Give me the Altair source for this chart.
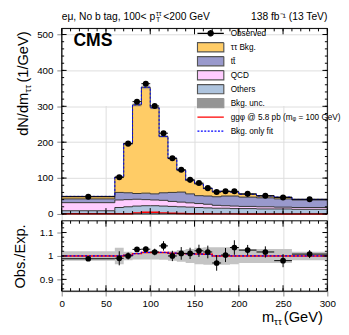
import altair as alt
import pandas as pd

# ---------------- data ----------------
bin_lo = [0, 60, 70, 80, 90, 100, 110, 120, 130, 140, 150, 160, 170, 180, 190, 200, 220, 240, 260]
bin_hi = [60, 70, 80, 90, 100, 110, 120, 130, 140, 150, 160, 170, 180, 190, 200, 220, 240, 260, 300]
bin_mid = [30, 65, 75, 85, 95, 105, 115, 125, 135, 145, 155, 165, 175, 185, 195, 210, 230, 250, 280]

others = [9, 18, 20, 22, 23, 23, 22, 21, 20, 19, 18, 17, 16, 16, 15, 15, 14, 14, 13]
qcd = [22.5, 21, 20, 19, 17, 16, 16, 14, 13, 12, 11, 10, 8, 7, 7, 6, 6, 5, 5]
ttbar = [10.5, 21, 19, 16, 18, 17, 21, 25, 28, 25, 22, 23, 24, 27, 28, 26, 25, 23, 21]
tautau = [7, 43, 137, 247, 295, 240, 157, 95, 61, 38, 33, 21, 15, 13, 11, 8, 5, 5, 1.5]
signal = [0.5, 0.5, 0.8, 3, 5, 4.5, 3, 2, 1.2, 0.8, 0.7, 0.5, 0.3, 0.3, 0.3, 0.2, 0.2, 0.2, 0.2]
observed = [48, 102, 196, 313, 363, 301, 225, 155, 123, 95, 86, 72, 61, 63, 63, 56, 51, 46, 41]
bkg_unc = [0.02, 0.035, 0.018, 0.015, 0.015, 0.015, 0.016, 0.02, 0.025, 0.03, 0.035, 0.037,
           0.037, 0.037, 0.035, 0.03, 0.03, 0.03, 0.018]

ratio = [0.988, 0.99, 1.0, 1.028, 1.029, 1.017, 1.043, 1.0, 1.011, 1.011, 1.022, 1.017,
         0.97, 1.004, 1.036, 1.025, 1.017, 0.98, 1.008]
ratio_err = [0.008, 0.03, 0.015, 0.01, 0.01, 0.014, 0.02, 0.022, 0.027, 0.024, 0.026, 0.027,
             0.033, 0.03, 0.031, 0.022, 0.024, 0.028, 0.017]
sig_ratio = [1.0, 1.0, 1.003, 1.01, 1.015, 1.015, 1.015, 1.012, 1.01, 1.009, 1.008, 1.007,
             1.0, 1.0, 1.0, 1.0, 1.0, 1.0, 1.0]
fit_ratio = [1.0, 1.0, 1.003, 1.01, 1.015, 1.015, 1.015, 1.012, 1.01, 1.009, 1.008, 1.007,
             1.0, 1.0, 1.0, 1.0, 1.0, 1.0, 1.0]

stack_names = ["Others", "QCD", "tt\u0304", "\u03c4\u03c4 Bkg."]
stack_colors = ["#aec4de", "#ffccff", "#9999cc", "#ffcc66"]

top_y_labels = [0, 100, 200, 300, 400, 500]
top_y_minor = list(range(0, 520, 20))
x_labels = [0, 50, 100, 150, 200, 250, 300]
x_minor = list(range(0, 301, 10))
ratio_y_labels = [0.9, 1.0, 1.1]
ratio_y_minor = [0.86, 0.88, 0.9, 0.92, 0.94, 0.96, 0.98, 1.0, 1.02, 1.04, 1.06, 1.08, 1.1, 1.12, 1.14]

legend_entries = ["Observed", "\u03c4\u03c4 Bkg.", "tt\u0304", "QCD", "Others", "Bkg. unc.",
                  "gg\u03c6 @ 5.8 pb (m\u1d69 = 100 GeV)", "Bkg. only fit"]

# ---------------- tables ----------------
n = len(bin_lo)
edges = bin_lo + [bin_hi[-1]]


def step(vals):
    return vals + [vals[-1]]


area_rows = []
line_rows = []
base = [0.0] * n
for name, vals in zip(stack_names, [others, qcd, ttbar, tautau]):
    top = [b + v for b, v in zip(base, vals)]
    for x, b0, t in zip(edges, step(base), step(top)):
        area_rows.append({"comp": name, "x": x, "y0": b0, "y1": t})
        line_rows.append({"comp": name, "x": x, "y": t})
    base = top
total = base
area_df = pd.DataFrame(area_rows)
line_df = pd.DataFrame(line_rows)

unc_df = pd.DataFrame({
    "x": edges,
    "lo": [t * (1 - u) for t, u in zip(step(total), step(bkg_unc))],
    "hi": [t * (1 + u) for t, u in zip(step(total), step(bkg_unc))],
    "tot": step(total),
    "sig": step(signal),
})
obs_df = pd.DataFrame({"lo": bin_lo, "hi": bin_hi, "mid": bin_mid, "obs": observed,
                       "r": ratio, "rlo": [r - e for r, e in zip(ratio, ratio_err)],
                       "rhi": [r + e for r, e in zip(ratio, ratio_err)]})
rat_df = pd.DataFrame({
    "x": edges,
    "blo": [1 - u for u in step(bkg_unc)],
    "bhi": [1 + u for u in step(bkg_unc)],
    "sig": step(sig_ratio),
    "fit": step(fit_ratio),
})

# ---------------- geometry & style ----------------
W, HT, GAP, HR = 272, 190, 7, 72
R0 = HT + GAP          # top edge of the ratio panel
HV = R0 + HR           # full view height
FONT = "Liberation Sans"
xs = alt.Scale(domain=[0, 300], nice=False, zero=False)
ys = alt.Scale(domain=[0, 517], nice=False, zero=False, range=[HT, 0])
yr = alt.Scale(domain=[0.85, 1.15], nice=False, zero=False, range=[HV, R0])
dummy = pd.DataFrame({"a": [0]})

AX_X = alt.Axis(values=x_labels, title=None, labelPadding=3, labelFlush=False, orient="bottom")
AX_TOP_Y = alt.Axis(values=top_y_labels, title=None, labelPadding=4, orient="left")
AX_BOT_Y = alt.Axis(values=ratio_y_labels, format="~g", title=None, labelPadding=4, orient="left")


def X(field):
    return alt.X(field, scale=xs, axis=AX_X)


def YT(field, ax=None):
    if ax is None:
        return alt.Y(field, scale=ys, axis=None, stack=False)
    return alt.Y(field, scale=ys, axis=ax, stack=False)


def YR(field, ax=None):
    if ax is None:
        return alt.Y(field, scale=yr, axis=None)
    return alt.Y(field, scale=yr, axis=ax)


def xtick_layers(vals, length, y_top, y_bot):
    d = pd.DataFrame({"v": vals})
    b = alt.Chart(d).mark_rule(color="black", strokeWidth=1).encode(
        x=X("v:Q"), y=alt.value(y_bot), y2=alt.value(y_bot - length))
    t = alt.Chart(d).mark_rule(color="black", strokeWidth=1).encode(
        x=X("v:Q"), y=alt.value(y_top), y2=alt.value(y_top + length))
    return [b, t]


def ytick_layers(vals, length, yfun):
    d = pd.DataFrame({"v": vals})
    l = alt.Chart(d).mark_rule(color="black", strokeWidth=1).encode(
        y=yfun("v:Q"), x=alt.value(0), x2=alt.value(length))
    r = alt.Chart(d).mark_rule(color="black", strokeWidth=1).encode(
        y=yfun("v:Q"), x=alt.value(W), x2=alt.value(W - length))
    return [l, r]


def txt(text, x, y, size=15, align="left", angle=0, dx=0, dy=0, weight="normal"):
    kw = dict(text=text, fontSize=size, align=align, baseline="alphabetic", font=FONT,
              color="black", dx=dx, dy=dy, fontWeight=weight)
    if angle:
        kw["angle"] = angle
    return alt.Chart(dummy).mark_text(**kw).encode(x=alt.value(x), y=alt.value(y))


def frame(y0, y1):
    return alt.Chart(dummy).mark_rect(fillOpacity=0, stroke="black", strokeWidth=1).encode(
        x=alt.value(0), x2=alt.value(W), y=alt.value(y0), y2=alt.value(y1))


# ---------------- top panel ----------------
fills = alt.Chart(area_df).mark_area(interpolate="step-after", opacity=1).encode(
    x=X("x:Q"), y=YT("y0:Q", AX_TOP_Y), y2="y1:Q",
    color=alt.Color("comp:N", scale=alt.Scale(domain=stack_names, range=stack_colors), legend=None),
)
unc_band = alt.Chart(unc_df).mark_area(interpolate="step-after", color="#888888", opacity=0.55).encode(
    x=X("x:Q"), y=YT("lo:Q"), y2="hi:Q")
outlines = alt.Chart(line_df).mark_line(interpolate="step-after", color="#333333", strokeWidth=1).encode(
    x=X("x:Q"), y=YT("y:Q"), detail="comp:N")
fit_line = alt.Chart(unc_df).mark_line(interpolate="step-after", color="blue", strokeWidth=1,
                                       strokeDash=[2, 2]).encode(x=X("x:Q"), y=YT("tot:Q"))
sig_line = alt.Chart(unc_df).mark_line(interpolate="step-after", color="red", strokeWidth=1.5).encode(
    x=X("x:Q"), y=YT("sig:Q"))
obs_bar = alt.Chart(obs_df).mark_rule(color="black", strokeWidth=1).encode(
    x=X("lo:Q"), x2="hi:Q", y=YT("obs:Q"))
obs_pts = alt.Chart(obs_df).mark_circle(color="black", opacity=1, size=38).encode(
    x=X("mid:Q"), y=YT("obs:Q"))

leg = dict(orient="none", legendX=138, legendY=-1, title=None, symbolSize=729,
           symbolStrokeWidth=1.2, labelFontSize=8.4, labelFont=FONT, labelColor="black",
           labelOffset=6, rowPadding=2.3, clipHeight=12, padding=0, labelLimit=300,
           symbolOpacity=1)
legend_fill = ["black", "#ffcc66", "#9999cc", "#ffccff", "#aec4de", "#959595",
               "transparent", "transparent"]
legend_stroke = ["black", "#555555", "#555555", "#555555", "#555555", "#959595", "red", "blue"]
box = "M-1,-0.35H1V0.35H-1Z"
legend_shape = ["M-1,0H1M-0.2,0A0.2,0.2,0,1,1,0.2,0A0.2,0.2,0,1,1,-0.2,0Z",
                box, box, box, box, box, "M-1,0H1", "M-1,0H1"]
legend_dash = [[1, 0], [1, 0], [1, 0], [1, 0], [1, 0], [1, 0], [1, 0], [2, 1.5]]
legend_layer = alt.Chart(pd.DataFrame({"entry": legend_entries})).transform_filter("false").mark_point(
    opacity=1, filled=True, size=729).encode(
    fill=alt.Fill("entry:N", scale=alt.Scale(domain=legend_entries, range=legend_fill),
                  legend=alt.Legend(**leg)),
    stroke=alt.Stroke("entry:N", scale=alt.Scale(domain=legend_entries, range=legend_stroke),
                      legend=alt.Legend(**leg)),
    shape=alt.Shape("entry:N", scale=alt.Scale(domain=legend_entries, range=legend_shape),
                    legend=alt.Legend(**leg)),
    strokeDash=alt.StrokeDash("entry:N", scale=alt.Scale(domain=legend_entries, range=legend_dash),
                              legend=alt.Legend(**leg)),
)

texts = [
    txt("CMS", 12, 18, size=18, weight="bold"),
    txt("e\u03bc, No b tag, 100< p", 0, -9, size=10.5),
    txt("\u03c4\u03c4", 0, -9, size=7, dx=96.5, dy=-4),
    txt("T", 0, -9, size=7, dx=96.5, dy=2.5),
    txt("<200 GeV", 0, -9, size=10.5, dx=104),
    txt("138 fb\u207b\u00b9 (13 TeV)", W, -9, size=10.5, align="right"),
    txt("dN/dm", -35, 110, angle=270),
    txt("\u03c4\u03c4", -35, 110, size=10, angle=270, dx=44.2, dy=3.5),
    txt(" (1/GeV)", -35, 110, angle=270, dx=54.5),
    txt("Obs./Exp.", -38, R0 + 36.5, align="center", angle=270),
    txt("m", 205, R0 + 104),
    txt("\u03c4\u03c4", 205, R0 + 104, size=10, dx=12.5, dy=3),
    txt(" (GeV)", 205, R0 + 104, dx=22.5),
]

# ---------------- ratio panel ----------------
band = alt.Chart(rat_df).mark_area(interpolate="step-after", color="#c4c4c4", opacity=1).encode(
    x=X("x:Q"), y=YR("blo:Q", AX_BOT_Y), y2="bhi:Q")
r_sig = alt.Chart(rat_df).mark_line(interpolate="step-after", color="red", strokeWidth=1.5).encode(
    x=X("x:Q"), y=YR("sig:Q"))
r_fit = alt.Chart(rat_df).mark_line(interpolate="step-after", color="blue", strokeWidth=1.2,
                                    strokeDash=[2, 2]).encode(x=X("x:Q"), y=YR("fit:Q"))
r_h = alt.Chart(obs_df).mark_rule(color="black", strokeWidth=1).encode(
    x=X("lo:Q"), x2="hi:Q", y=YR("r:Q"))
r_v = alt.Chart(obs_df).mark_rule(color="black", strokeWidth=1).encode(
    x=X("mid:Q"), y=YR("rlo:Q"), y2="rhi:Q")
r_pts = alt.Chart(obs_df).mark_circle(color="black", opacity=1, size=34).encode(
    x=X("mid:Q"), y=YR("r:Q"))

chart = alt.layer(
    fills, unc_band, outlines, fit_line, sig_line, obs_bar, obs_pts,
    band, r_sig, r_fit, r_h, r_v, r_pts,
    *xtick_layers(x_minor, 3, 0, HT), *xtick_layers(x_labels, 6, 0, HT),
    *xtick_layers(x_minor, 3, R0, HV), *xtick_layers(x_labels, 6, R0, HV),
    *ytick_layers(top_y_minor, 2.5, YT), *ytick_layers(top_y_labels, 5, YT),
    *ytick_layers(ratio_y_minor, 2.5, YR), *ytick_layers(ratio_y_labels, 5, YR),
    frame(0, HT), frame(R0, HV),
    *texts, legend_layer,
).resolve_scale(y="independent").properties(
    width=W, height=HV,
    autosize=alt.AutoSizeParams(type="none"),
    padding={"left": 55, "top": 17, "right": 14, "bottom": 40},
).configure_view(strokeWidth=0).configure_axis(
    labelFont=FONT, labelFontSize=10, labelColor="black", grid=False, ticks=False, domain=False
).configure(font=FONT)

chart.save("out.html", embed_options={"renderer": "svg", "actions": False})
